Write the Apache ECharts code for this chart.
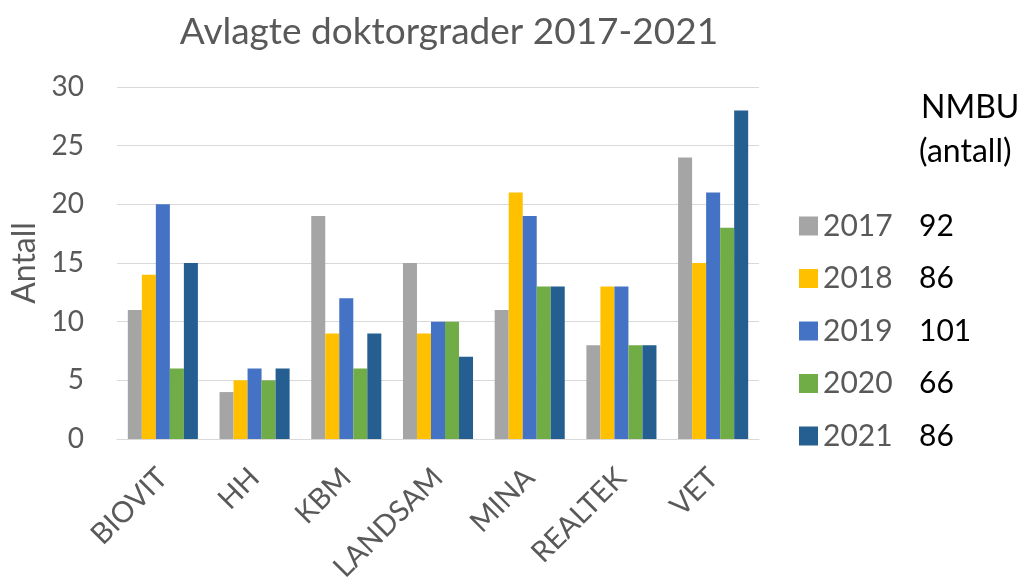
<!DOCTYPE html>
<html><head><meta charset="utf-8">
<script src="https://cdn.jsdelivr.net/npm/echarts@6/dist/echarts.min.js"></script>
<style>html,body{margin:0;padding:0;background:#fff}#c{width:1032px;height:583px}</style>
</head><body><div id="c"></div>
<script>
const categories = ['BIOVIT','HH','KBM','LANDSAM','MINA','REALTEK','VET'];
const years = ['2017','2018','2019','2020','2021'];
const v2017 = [11, 4, 19, 15, 11, 8, 24];
const v2018 = [14, 5, 9, 9, 21, 13, 15];
const v2019 = [20, 6, 12, 10, 19, 13, 21];
const v2020 = [6, 5, 6, 10, 13, 8, 18];
const v2021 = [15, 6, 9, 7, 13, 8, 28];
const totals = ['92','86','101','66','86'];
const colors = ['#A5A5A5','#FFC000','#4472C4','#70AD47','#255E91'];
const FONT = 'Lato, "Open Sans", sans-serif';
const seriesData = [v2017, v2018, v2019, v2020, v2021];

const chart = echarts.init(document.getElementById('c'));
chart.setOption({
  animation: false,
  textStyle: { fontFamily: FONT },
  title: {
    text: 'Avlagte doktorgrader 2017-2021',
    left: 444, top: 9, textAlign: 'center',
    textStyle: { fontFamily: FONT, fontSize: 37, fontWeight: 'normal', color: '#595959' }
  },
  grid: { left: 117, right: 273, top: 87, bottom: 144, outerBoundsMode: 'none', containLabel: false },
  legend: {
    orient: 'vertical', left: 794, top: 206,
    itemWidth: 19, itemHeight: 19, itemGap: 22.5, icon: 'rect',
    data: years,
    formatter: function (name) {
      return '{y|' + name + '}{v|' + totals[years.indexOf(name)] + '}';
    },
    textStyle: {
      rich: {
        y: { fontFamily: FONT, fontSize: 30, color: '#595959', width: 96, padding: [0,0,0,0] },
        v: { fontFamily: FONT, fontSize: 30, color: '#000' }
      }
    }
  },
  graphic: [
    { type: 'text', left: 921, top: 92, style: { text: 'NMBU', font: '32px ' + FONT, fill: '#000' } },
    { type: 'text', left: 919, top: 136, style: { text: '(antall)', font: '32px ' + FONT, fill: '#000' } }
  ],
  xAxis: {
    type: 'category', data: categories,
    axisLine: { lineStyle: { color: '#D9D9D9', width: 1 } },
    axisTick: { show: false },
    axisLabel: { rotate: 45, fontFamily: FONT, fontSize: 29, color: '#595959', margin: 34 }
  },
  yAxis: {
    type: 'value', min: 0, max: 30, interval: 5,
    name: 'Antall', nameLocation: 'middle', nameGap: 71, nameRotate: 90,
    nameTextStyle: { fontFamily: FONT, fontSize: 32, color: '#595959' },
    axisLine: { show: false }, axisTick: { show: false },
    axisLabel: { fontFamily: FONT, fontSize: 28, color: '#595959', margin: 33 },
    splitLine: { lineStyle: { color: '#D9D9D9', width: 1 } }
  },
  series: years.map((y, i) => ({
    name: y, type: 'bar', data: seriesData[i],
    itemStyle: { color: colors[i] },
    barGap: '0%', barCategoryGap: '23.6%'
  }))
});
</script></body></html>
